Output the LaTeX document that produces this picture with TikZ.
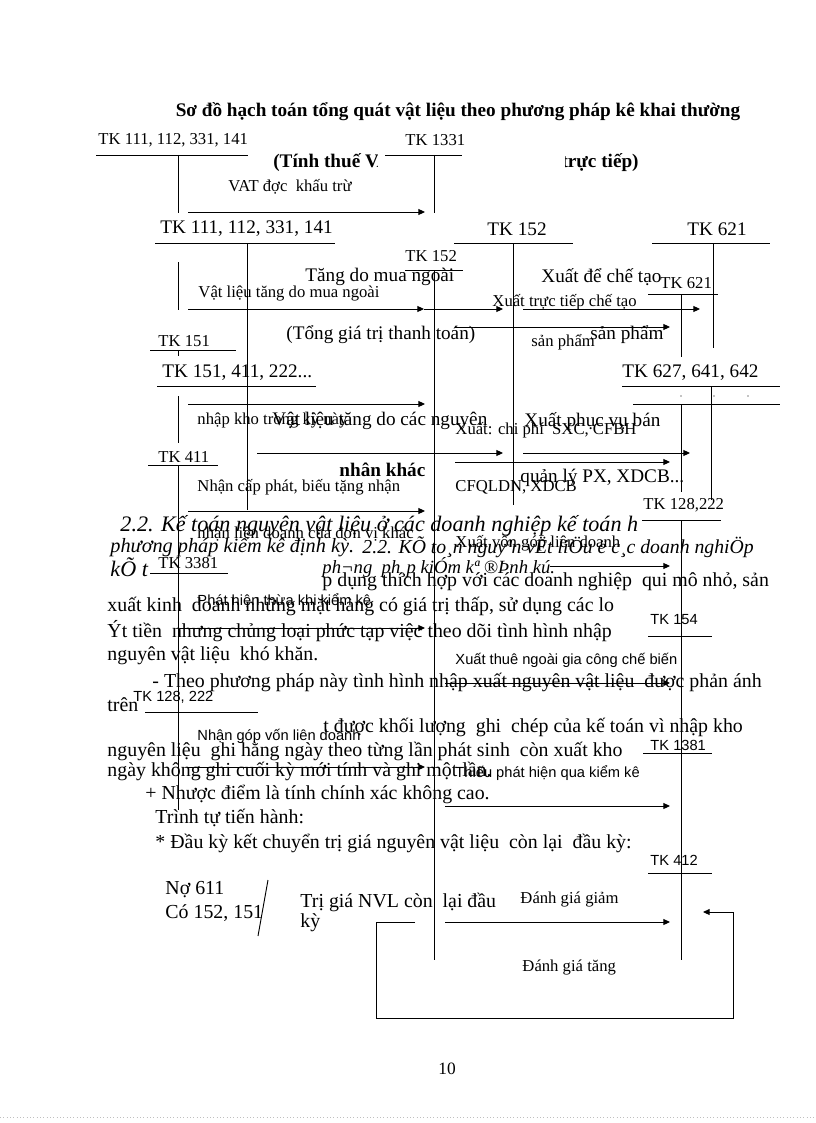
\documentclass[tikz,border=0pt]{standalone}
\usepackage{fontspec}
\setmainfont{Liberation Serif}
\setsansfont{Liberation Sans}
\usetikzlibrary{arrows.meta}

\tikzset{
  big/.style={font=\fontsize{14.4}{17}\selectfont, inner sep=0pt, anchor=west},
  bigb/.style={font=\bfseries\fontsize{14.4}{17}\selectfont, inner sep=0pt, anchor=west},
  body/.style={font=\fontsize{14.9}{17}\selectfont, inner sep=0pt, anchor=west},
  sml/.style={font=\fontsize{12.5}{13}\selectfont, inner sep=0pt, anchor=west},
  smsf/.style={font=\sffamily\fontsize{11}{12}\selectfont, inner sep=0pt, anchor=west},
  itl/.style={font=\itshape\fontsize{16.6}{18}\selectfont, inner sep=0pt, anchor=west},
  flow/.style={-{Triangle[length=5pt,width=4.5pt]}},
}

\begin{document}
\begin{tikzpicture}[x=0.75pt,y=-0.75pt,line width=0.7pt]
  \useasboundingbox (0,0) rectangle (816,1123);

  % heading
  \node[font=\bfseries\fontsize{14.4}{16}\selectfont, inner sep=0pt] (title) at (458,112)
    {Sơ đồ hạch toán tổng quát vật liệu theo phương pháp kê khai thường};
  \node[font=\bfseries\fontsize{14.4}{16}\selectfont, inner sep=0pt] (vatnote) at (456,163)
    {(Tính thuế VAT theo phương pháp trực tiếp)};
  \fill[white] (378,150) rectangle (565,178);

  % small first scheme
  \node[sml] (tkTien) at (98,140) {TK 111, 112, 331, 141};
  \draw (96,155) -- (248,155) (178,155) -- (178,213);
  \node[sml] (tkThue) at (405,140) {TK 1331};
  \draw (385,155) -- (462,155) (434,155) -- (434,213);
  \node[sml] (vatKT) at (228,187) {VAT đợc\ \ khấu trừ};
  \draw[flow] (188,212) -- (425,212);

  % big account headers
  \node[big] (tkTien2) at (160,229) {TK 111, 112, 331, 141};
  \draw (155,243) -- (335,243) (247,243) -- (247,510);
  \node[big] (tkVL) at (487,229) {TK 152};
  \draw (454,243) -- (573,243) (513,243) -- (513,505);
  \node[big] (tkNVL) at (687,229) {TK 621};
  \draw (652,243) -- (770,243) (713,243) -- (713,348);

  % small TK 152 column
  \node[sml] (tkVL2) at (405,256) {TK 152};
  \draw (405,270) -- (463,270) (434,270) -- (434,960);
  \draw (178,262) -- (178,310);

  \node[big] (muaNgoai) at (305,277) {Tăng do mua ngoài};
  \node[big] (cheTao) at (541,277) {Xuất để chế tạo};
  \node[sml] (tkNVL2) at (660,283) {TK 621};
  \draw (648,294) -- (718,294) (681,294) -- (681,357);
  \node[sml] (vlMua) at (198,293) {Vật liệu tăng do mua ngoài};
  \draw[flow] (188,309) -- (424,309);
  \draw[flow] (424,309) -- (503,309);
  \node[sml] (xuatTT) at (492,302) {Xuất trực tiếp chế tạo};
  \draw[flow] (523,309) -- (700,309);
  \draw[flow] (455,327) -- (670,327);
  \node[big] (tongGT) at (286,335) {(Tổng giá trị thanh toán)};
  \node[big] (sanPham) at (590,335) {sản phẩm};
  \node[sml] (sanPham2) at (531,342) {sản phẩm};

  % TK 151
  \node[sml] (tkDiDuong) at (158,341) {TK 151};
  \draw (150,350) -- (236,350) (178,350) -- (178,356);
  \node[big] (tkKhac) at (162,373) {TK 151, 411, 222...};
  \draw (157,386) -- (316,386) (178,396) -- (178,443);
  \node[big] (tkChiPhi) at (622,373) {TK 627, 641, 642};
  \draw (622,386) -- (780,386) (633,404) -- (780,404) (711,386) -- (711,500) (681,404) -- (681,492);
  \foreach \dx in {681,714,748} \fill (\dx,396) circle (0.6);
  \draw[flow] (188,404) -- (425,404);
  \node[sml] (nhapKho) at (197,420) {nhập kho trong kỳ này};
  \node[big] (vlNguon) at (272,421) {Vật liệu tăng do các nguyên};
  \node[sml] (xuatCP) at (455,430) {Xuất: chi phí\ \ SXC, CFBH};
  \node[big] (phucVu) at (524,422) {Xuất phục vụ bán};
  \draw[flow] (257,453) -- (503,453);
  \draw[flow] (523,453) -- (690,453);
  \draw[flow] (455,462) -- (670,462);

  % TK 411
  \node[sml] (tkVon) at (158,457) {TK 411};
  \draw (148,465) -- (218,465) (178,465) -- (178,810);
  \node[bigb] (nhanKhac) at (339,470) {nhân khác};
  \node[sml] (capPhat) at (197,487) {Nhận cấp phát, biếu tặng nhận};
  \node[sml] (qldn) at (455,487) {CFQLDN, XDCB};
  \node[big] (quanLy) at (520,478) {quản lý PX, XDCB...};
  \draw[flow] (188,511) -- (425,511);
  \node[sml] (tkDauTu) at (643,505) {TK 128,222};
  \draw (642,520) -- (721,520) (681,520) -- (681,960);

  % text of the page behind the scheme
  \node[itl] (muc1) at (120,526) {2.2. Kế toán nguyên vật liệu ở các doanh nghiệp kế toán h};
  \node[sml] (nhanLD) at (197,534) {nhận liên doanh của đơn vị khác};
  \node[itl, font=\itshape\fontsize{15.2}{18}\selectfont] (muc2) at (110,547) {phương pháp kiểm kê định kỳ.};
  \node[itl, font=\itshape\fontsize{14.8}{17}\selectfont] (muc3) at (362,547) {2.2. KÕ to¸n nguyªn vËt liÖu ë c¸c doanh nghiÖp};
  \node[sml] (xuatVon) at (455,543) {Xuất vốn góp liên doanh};
  \node[itl] (muc4) at (110,567) {kÕ t};
  \node[itl, font=\itshape\fontsize{14}{17}\selectfont] (muc5) at (322,567) {ph¬ng\ \ ph¸p kiÓm kª ®Þnh kú.};
  \draw[flow] (550,566) -- (670,566);
  \node[sml] (tkPhaiTra) at (158,563) {TK 3381};
  \draw (150,573) -- (228,573);
  \node[smsf] (thua) at (197,601) {Phát hiện thừa khi kiểm kê};
  \node[body] (dong1) at (322,582) {p dụng thích hợp với các doanh nghiệp\ \ qui mô nhỏ, sản};
  \node[body] (dong2) at (107,606) {xuất kinh\ \ doanh những mặt hàng có giá trị thấp, sử dụng các lo};
  \node[smsf] (tkSX) at (650,620) {TK 154};
  \draw (648,636) -- (712,636);
  \node[body] (dong3) at (107,631) {Ýt tiền\ \ nhưng chủng loại phức tạp việc theo dõi tình hình nhập};
  \draw[flow] (180,628) -- (425,628);
  \node[body] (dong4) at (107,656) {nguyên vật liệu\ \ khó khăn.};
  \node[smsf] (thueNgoai) at (455,660) {Xuất thuê ngoài gia công chế biến};
  \node[body] (dong5) at (152,682) {- Theo phương pháp này tình hình nhập xuất nguyên vật liệu\ \ được phản ánh};
  \draw[flow] (445,683) -- (670,683);
  \node[body] (dong6) at (107,705) {trên};
  \node[smsf] (tkDauTu2) at (133,697) {TK 128, 222};
  \draw (145,712) -- (258,712);
  \node[body] (dong7) at (323,727) {t được khối lượng\ \ ghi\ \ chép của kế toán vì nhập kho};
  \node[smsf] (gopVon) at (197,736) {Nhận góp vốn liên doanh};
  \node[body] (dong8) at (107,751) {nguyên liệu\ \ ghi hằng ngày theo từng lần phát sinh\ \ còn xuất kho};
  \node[smsf] (tkThieu) at (650,745) {TK 1381};
  \draw (643,753) -- (712,753);
  \node[body] (dong9) at (107,771) {ngày không ghi cuối kỳ mới tính và ghi một lần.};
  \draw[flow] (188,767) -- (425,767);
  \node[smsf] (thieu) at (455,773) {Thiếu phát hiện qua kiểm kê};
  \node[body] (dong10) at (145,794) {+ Nhược điểm là tính chính xác không cao.};
  \draw[flow] (445,806) -- (670,806);
  \node[body] (dong11) at (155,818) {Trình tự tiến hành:};
  \node[body] (dong12) at (155,843) {* Đầu kỳ kết chuyển trị giá nguyên vật liệu\ \ còn lại\ \ đầu kỳ:};

  % TK 412
  \node[smsf] (tkDanhGia) at (650,860) {TK 412};
  \draw (648,873) -- (712,873);
  \node[body] (no611) at (165,890) {Nợ 611};
  \node[body] (co152) at (165,913) {Có 152, 151};
  \draw (268,880) -- (258,936);
  \node[body, align=left, font=\fontsize{14.9}{12}\selectfont, anchor=north west] (triGia) at (300,893)
    {Trị giá NVL còn\ \ lại đầu\\kỳ};
  \node[sml] (giam) at (520,899) {Đánh giá giảm};
  \draw[flow] (445,922) -- (670,922);
  \draw[flow] (415,922) -- (376,922) -- (376,1018) -- (733,1018) -- (733,912) -- (703,912);
  \node[sml] (tang) at (522,967) {Đánh giá tăng};

  % page
  \node[font=\fontsize{13}{15}\selectfont, inner sep=0pt] (trang) at (447,1069) {10};
  \draw[gray!50, dotted, line width=0.5pt] (0,1117) -- (816,1117);
\end{tikzpicture}
\end{document}
